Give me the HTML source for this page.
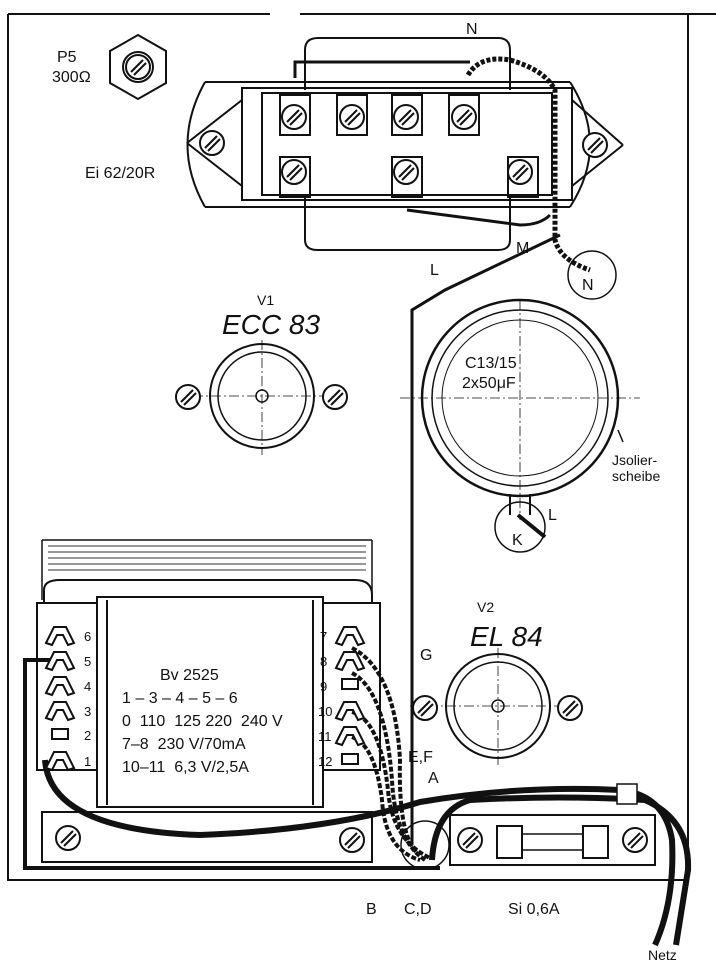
<!DOCTYPE html>
<html><head><meta charset="utf-8"><style>
html,body{margin:0;padding:0;background:#fff}
svg{display:block}
text{font-family:"Liberation Sans",sans-serif;fill:#111}
</style></head><body>
<svg width="716" height="970" viewBox="0 0 716 970" xmlns="http://www.w3.org/2000/svg">
<defs>
<g id="scr"><circle r="12" fill="#fff" stroke="#111" stroke-width="2"/><line x1="-7" y1="5" x2="5" y2="-7" stroke="#111" stroke-width="2"/><line x1="-4" y1="8" x2="8" y2="-4" stroke="#111" stroke-width="2"/></g>
<g id="lug" fill="#fff" stroke="#111" stroke-width="2"><path d="M-14 8 L-6 -8 L6 -8 L14 8 L8 10 L3 0 L-3 0 L-8 10 Z"/></g>
</defs>
<g fill="none" stroke="#111" stroke-width="2">
<!-- frame -->
<path d="M8 14 H270 M300 14 H716" stroke-width="2"/>
<path d="M8 14 V880 H688 V14" />
<!-- P5 -->
<polygon points="138,35 166,51 166,83 138,99 110,83 110,51"/>
<circle cx="138" cy="67" r="15"/>
<use href="#scr" x="138" y="67"/>
<!-- Ei 62 transformer -->
<path d="M205 82 H570 M205 207 H570"/>
<path d="M205 82 Q170 145 205 207 M570 82 Q610 145 570 207"/>
<path d="M187 143 L242 100 M187 143 L242 186 M623 145 L572 100 M623 145 L572 186"/>
<rect x="242" y="88" width="330" height="112"/>
<rect x="262" y="93" width="290" height="102"/>
<path d="M305 90 V50 Q305 38 318 38 H498 Q510 38 510 50 V90"/>
<path d="M305 198 V240 Q305 250 318 250 H498 Q510 250 510 240 V198"/>
<rect x="280" y="95" width="30" height="40"/><rect x="337" y="95" width="30" height="40"/>
<rect x="392" y="95" width="30" height="40"/><rect x="449" y="95" width="30" height="40"/>
<rect x="280" y="157" width="30" height="40"/><rect x="392" y="157" width="30" height="40"/>
<rect x="508" y="157" width="30" height="40"/>
</g>
<use href="#scr" x="212" y="143"/><use href="#scr" x="595" y="145"/>
<use href="#scr" x="294" y="117"/><use href="#scr" x="352" y="117"/><use href="#scr" x="406" y="117"/><use href="#scr" x="464" y="117"/>
<use href="#scr" x="294" y="172"/><use href="#scr" x="406" y="172"/><use href="#scr" x="520" y="172"/>
<g fill="none" stroke="#111">
<path d="M295 78 V62 H470" stroke-width="3"/>
<path d="M468 75 Q480 55 510 60 Q545 70 555 90 V240 Q560 260 590 270" stroke-width="5" stroke-dasharray="4 2"/>
<path d="M407 210 L520 225 Q540 225 550 215" stroke-width="3"/>
<path d="M560 235 L445 290 L412 310 V845" stroke-width="3"/>
<circle cx="592" cy="275" r="24" stroke-width="1.5"/>
<!-- V1 -->
<circle cx="262" cy="396" r="52" stroke-width="2"/><circle cx="262" cy="396" r="44" stroke-width="1.5"/>
<circle cx="262" cy="396" r="6" stroke-width="1.5"/>
<path d="M175 396 H350 M262 340 V455" stroke-width="0.8" stroke-dasharray="10 3 2 3"/>
<!-- C13 -->
<circle cx="520" cy="398" r="98" stroke-width="2.5"/><circle cx="520" cy="398" r="88" stroke-width="1.5"/><circle cx="520" cy="398" r="78" stroke-width="1"/>
<path d="M400 398 H640 M520 300 V520" stroke-width="0.8" stroke-dasharray="10 3 2 3"/>
<path d="M510 494 V515 M530 494 V515" stroke-width="2"/>
<circle cx="520" cy="527" r="25" stroke-width="1.5"/>
<path d="M518 515 L545 537" stroke-width="4"/>
<path d="M618 430 L623 442" stroke-width="1.5"/>
<!-- lower transformer -->
<path d="M42 540 H372 M42 540 V600 M372 540 V600" stroke-width="1.5"/>
<path d="M48 546 H366 M48 552 H366 M48 558 H366 M48 564 H366 M48 570 H366" stroke="#777" stroke-width="1.5"/>
<path d="M44 603 V590 Q44 580 60 580 H355 Q372 580 372 595 V603" stroke-width="2"/>
<path d="M37 603 H100 V770 H37 Z M318 603 H380 V770 H318 Z" stroke-width="2" fill="#fff"/>
<rect x="97" y="597" width="226" height="210" fill="#fff" stroke-width="2"/>
<path d="M107 600 V805 M313 600 V805" stroke-width="2"/>
<rect x="42" y="812" width="330" height="50" stroke-width="2"/>
<!-- V2 -->
<circle cx="498" cy="706" r="52" stroke-width="2"/><circle cx="498" cy="706" r="44" stroke-width="1.5"/>
<circle cx="498" cy="706" r="6" stroke-width="1.5"/>
<path d="M410 706 H585 M498 648 V765" stroke-width="0.8" stroke-dasharray="10 3 2 3"/>
<!-- fuse -->
<rect x="450" y="815" width="205" height="50" stroke-width="2"/>
<rect x="497" y="826" width="25" height="32" stroke-width="2"/><rect x="583" y="826" width="25" height="32" stroke-width="2"/>
<path d="M522 834 H583 M522 850 H583" stroke-width="1.5"/>
<circle cx="425" cy="845" r="24" stroke-width="1.5"/>
<!-- wires -->
<path d="M45 760 Q50 830 200 835 Q330 830 420 802 Q520 785 620 790 Q665 795 672 840 Q675 900 655 945" stroke-width="6"/>
<path d="M432 860 Q435 810 470 800 Q560 795 645 800 Q690 820 688 870 L676 945" stroke-width="6"/>
<path d="M50 660 H25 V868 H440" stroke-width="4"/>
<path d="M352 648 Q395 670 400 760 Q398 840 420 855 M352 673 Q385 690 392 780 Q395 840 425 860" stroke-width="4" stroke-dasharray="5 2"/>
<path d="M352 712 Q380 720 388 790 Q392 840 430 858 M352 737 Q375 745 382 800 Q385 850 420 860" stroke-width="4" stroke-dasharray="5 2"/>
</g>
<rect x="617" y="784" width="20" height="20" fill="#fff" stroke="#111" stroke-width="1.5"/>
<use href="#scr" x="188" y="397"/><use href="#scr" x="335" y="397"/>
<use href="#scr" x="425" y="708"/><use href="#scr" x="570" y="708"/>
<use href="#scr" x="68" y="838"/><use href="#scr" x="352" y="840"/>
<use href="#scr" x="470" y="840"/><use href="#scr" x="635" y="840"/>
<use href="#lug" x="60" y="635"/><use href="#lug" x="60" y="660"/><use href="#lug" x="60" y="685"/><use href="#lug" x="60" y="710"/><use href="#lug" x="60" y="760"/>
<rect x="52" y="729" width="16" height="10" fill="#fff" stroke="#111" stroke-width="2"/>
<use href="#lug" x="350" y="635"/><use href="#lug" x="350" y="660"/><use href="#lug" x="350" y="710"/><use href="#lug" x="350" y="735"/>
<rect x="342" y="679" width="16" height="10" fill="#fff" stroke="#111" stroke-width="2"/>
<rect x="342" y="754" width="16" height="10" fill="#fff" stroke="#111" stroke-width="2"/>
<g font-size="13">
<text x="84" y="641">6</text><text x="84" y="666">5</text><text x="84" y="691">4</text><text x="84" y="716">3</text><text x="84" y="740">2</text><text x="84" y="766">1</text>
<text x="320" y="641">7</text><text x="320" y="666">8</text><text x="320" y="691">9</text><text x="318" y="716">10</text><text x="318" y="741">11</text><text x="318" y="766">12</text>
</g>
<g font-size="16">
<text x="57" y="62">P5</text><text x="52" y="82">300Ω</text>
<text x="85" y="178">Ei 62/20R</text>
<text x="466" y="34">N</text><text x="430" y="275">L</text><text x="516" y="253">M</text><text x="582" y="290">N</text>
<text x="465" y="368">C13/15</text><text x="462" y="388">2x50μF</text>
<text x="548" y="520">L</text><text x="512" y="545">K</text>
<text x="160" y="680">Bv 2525</text>
<text x="122" y="703">1 – 3 – 4 – 5 – 6</text>
<text x="122" y="726">0&#160;&#160;110&#160;&#160;125&#160;220&#160;&#160;240 V</text>
<text x="122" y="749">7–8&#160;&#160;230 V/70mA</text>
<text x="122" y="772">10–11&#160;&#160;6,3 V/2,5A</text>
<text x="420" y="660">G</text><text x="408" y="762">E,F</text><text x="428" y="783">A</text>
<text x="366" y="914">B</text><text x="404" y="914">C,D</text><text x="508" y="914">Si 0,6A</text>
<text x="648" y="960" font-size="14">Netz</text>
<text x="257" y="305" font-size="14">V1</text><text x="477" y="612" font-size="14">V2</text>
<text x="612" y="465" font-size="14">Jsolier-</text><text x="612" y="481" font-size="14">scheibe</text>
</g>
<text x="222" y="334" font-size="28" font-style="italic">ECC 83</text>
<text x="470" y="646" font-size="28" font-style="italic">EL 84</text>
</svg>
</body></html>
